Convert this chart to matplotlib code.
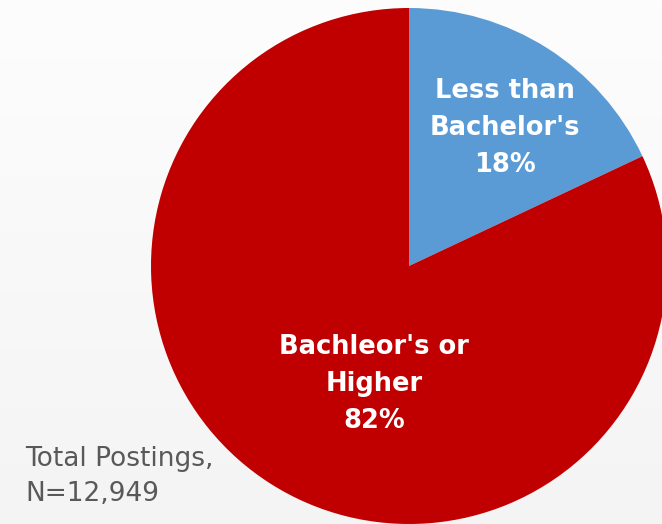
import numpy as np
import matplotlib
matplotlib.use('Agg')
import matplotlib.pyplot as plt

# data
categories = ["Less than\nBachelor's", "Bachleor's or\nHigher"]
shares = [18, 82]
colors = ['#5B9BD5', '#C00000']
total_postings = 12949

W, H = 662, 524
fig = plt.figure(figsize=(W / 100, H / 100), dpi=100)

# faint vertical gradient behind everything
bg = fig.add_axes((0, 0, 1, 1), zorder=0)
grad = np.linspace(0, 1, 256).reshape(-1, 1)
bg.imshow(grad, aspect='auto', cmap=matplotlib.colors.LinearSegmentedColormap.from_list(
    'bg', ['#fdfdfd', '#f4f4f4']), extent=(0, 1, 0, 1), origin='upper')
bg.axis('off')

# pie axes: centre (409, 266) px, radius 258 px
cx, cy, r = 409, 266, 258
ax = fig.add_axes(((cx - r) / W, (H - cy - r) / H, 2 * r / W, 2 * r / H), zorder=1)
ax.patch.set_visible(False)
wedges, _ = ax.pie(shares, colors=colors, startangle=90, counterclock=False,
                   radius=1, wedgeprops=dict(linewidth=0))
for w in wedges:
    w.set_clip_on(False)
ax.set_xlim(-1, 1)
ax.set_ylim(-1, 1)
ax.set_aspect('equal')

label_pos = [(0.372, 0.535), (-0.136, -0.457)]
for name, val, (x, y) in zip(categories, shares, label_pos):
    ax.text(x, y, f"{name}\n{val}%", ha='center', va='center', color='white',
            fontsize=18.5, fontweight='bold', linespacing=1.55, family='DejaVu Sans')

fig.text(25 / W, 1 - 477 / H, f"Total Postings,\nN={total_postings:,}", ha='left', va='center',
         color='#595959', fontsize=19, linespacing=1.45, family='DejaVu Sans')

fig.savefig('out.png', dpi=100)
